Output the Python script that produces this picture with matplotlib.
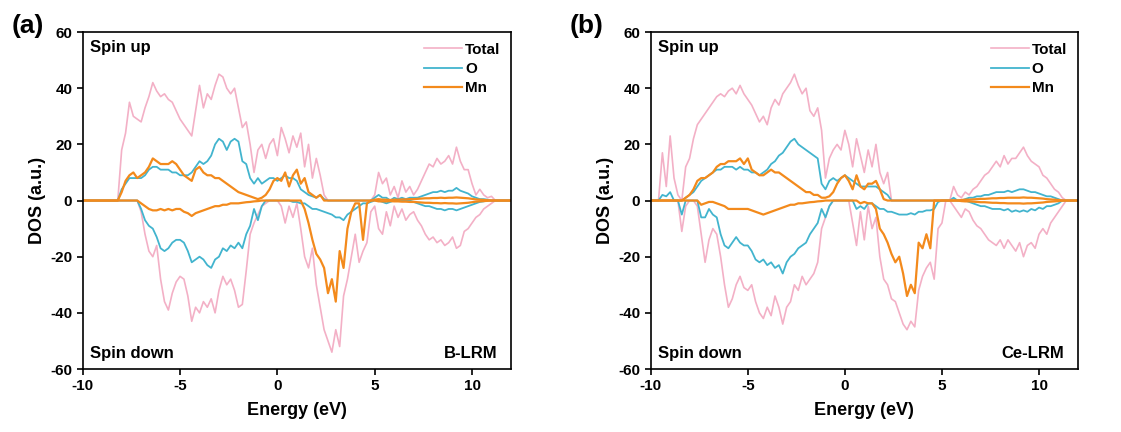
import matplotlib
matplotlib.use("Agg")
import matplotlib.pyplot as plt
import numpy as np

plt.rcParams['font.family'] = ['Liberation Sans', 'DejaVu Sans']
plt.rcParams['font.weight'] = 'bold'
plt.rcParams['axes.unicode_minus'] = False

# energy grid (eV), 0.2 eV step from -10 to 12
energy = np.round(np.linspace(-10, 12, 111), 2)

# ---- (a) B-LRM ----
tot_up_a = [0, 0, 0, 0, 0, 0, 0, 0, 0, 0,
            18, 24, 35, 30, 29, 28, 33, 37, 42, 39,
            37, 38, 36, 35, 32, 29, 27, 25, 23, 32,
            41, 33, 38, 36, 41, 45, 44, 40, 38, 40,
            33, 26, 28, 20, 10, 18, 20, 15, 20, 22,
            16, 26, 22, 17, 23, 19, 24, 12, 20, 8,
            15, 9, 2, 0, 0, 0, 0, 0, 0, 0,
            0, 0, 0, 0, 0, 2, 10, 6, 8, 2,
            5, 1, 7, 3, 5, 2, 4, 7, 10, 13,
            12, 15, 13, 14, 16, 13, 19, 14, 11, 11,
            6, 2, 4, 2, 1, 1.5, 0, 0, 0, 0,
            0]
tot_dn_a = [0, 0, 0, 0, 0, 0, 0, 0, 0, 0,
            0, 0, 0, 0, 0, -4, -12, -18, -20, -16,
            -28, -36, -39, -33, -29, -27, -28, -34, -43, -38,
            -40, -36, -38, -35, -40, -32, -27, -30, -28, -32,
            -38, -37, -25, -12, -8, -5, -2, -1, 0, 0,
            0, -2, -8, -2, -6, -1, -10, -20, -24, -17,
            -30, -38, -46, -50, -54, -46, -52, -34, -28, -20,
            -12, -22, -18, -15, -4, -2, -10, -12, -4, -9,
            -2, -6, -3, -7, -5, -4, -7, -9, -12, -14,
            -13, -15, -14, -16, -15, -13, -17, -16, -11, -10,
            -8, -6, -5, -3, -2, -1, 0, 0, 0, 0,
            0]
o_up_a = [0, 0, 0, 0, 0, 0, 0, 0, 0, 0,
          4, 6, 8, 8, 8, 8, 9, 11, 12, 12,
          11, 11, 11, 10, 10, 9, 9, 9, 10, 12,
          14, 13, 14, 16, 20, 22, 21, 18, 21, 22,
          21, 14, 13, 8, 6, 8, 6, 7, 8, 8,
          7, 8, 9, 8, 8, 7, 4, 3, 2, 1.5,
          1, 2, 0.5, 0, 0, 0, 0, 0, 0, 0,
          0, 0, 0, 0, 0, 1, 2, 1, 1, 0,
          1, 0.5, 1, 0.5, 1, 1, 1, 1.5, 2, 2.5,
          3, 3, 3.5, 3, 3.5, 3.5, 4.5, 3.5, 3, 2.5,
          1.5, 1, 0.5, 0.5, 0.3, 0, 0, 0, 0, 0,
          0]
o_dn_a = [0, 0, 0, 0, 0, 0, 0, 0, 0, 0,
          0, 0, 0, 0, 0, -3, -7, -9, -10, -13,
          -17, -18, -17, -15, -14, -14, -15, -18, -22, -21,
          -20, -21, -23, -24, -21, -20, -17, -18, -16, -17,
          -15, -17, -12, -9, -3, -7, -2, 0, 0, 0,
          0, 0, 0, 0, -0.5, -0.5, -1, -1, -2, -3,
          -3, -3.5, -4, -4.5, -5, -6, -6, -7, -5, -4,
          -3, -2, -1, -1, -0.5, 0, 0, -0.5, -1, -0.5,
          0, 0, 0, 0, 0, -0.5, -1, -1.5, -2, -2,
          -2.5, -3, -3, -3.5, -3, -3, -3.5, -3, -2.5, -2,
          -1.5, -1, -0.5, -0.3, 0, 0, 0, 0, 0, 0,
          0]
mn_up_a = [0, 0, 0, 0, 0, 0, 0, 0, 0, 0,
           3, 7, 9, 10, 8, 9, 10, 12, 15, 14,
           13, 13, 13, 14, 13, 11, 9, 8, 7, 11,
           12, 10, 9, 9, 8, 8, 7, 6, 5, 4,
           3, 2.5, 2, 1.5, 1, 0.5, 1, 2, 4, 7,
           8, 7, 10, 5, 9, 11, 6, 8, 3, 2,
           1, 2, 0, 0, 0, 0, 0, 0, 0, 0,
           0, 0, 0, 0, 0, 0.3, 0.5, 0.3, 0.3, 0.2,
           0.3, 0.3, 0.4, 0.4, 0.5, 0.5, 0.6, 0.7, 0.8, 0.8,
           0.9, 0.9, 1, 0.9, 1, 1, 1.1, 1, 0.9, 0.8,
           0.6, 0.4, 0.3, 0.2, 0.1, 0, 0, 0, 0, 0,
           0]
mn_dn_a = [0, 0, 0, 0, 0, 0, 0, 0, 0, 0,
           0, 0, 0, 0, 0, -1, -2, -3, -3.5, -3.5,
           -3, -3.5, -3, -3.5, -3, -3, -4, -4.5, -5.5, -4.5,
           -4, -3.5, -3, -2.5, -2, -2, -1.5, -1.5, -1, -1,
           -1, -0.8, -0.6, -0.5, -0.3, -0.2, 0, 0, 0, 0,
           0, 0, 0, 0, 0, 0, 0, -3, -8, -14,
           -19, -21, -24, -33, -28, -36, -18, -24, -10, -4,
           -1, -1, -14, -1, 0, 0, -0.3, -0.3, -0.3, -0.2,
           -0.3, -0.3, -0.4, -0.4, -0.5, -0.5, -0.6, -0.7, -0.8, -0.8,
           -0.9, -0.9, -1, -0.9, -1, -1, -1.1, -1, -0.9, -0.8,
           -0.6, -0.4, -0.3, -0.2, -0.1, 0, 0, 0, 0, 0,
           0]

# ---- (b) Ce-LRM ----
tot_up_b = [0, 0, 0, 17, 5, 23, 8, 2, 0, 12,
            15, 22, 27, 29, 31, 33, 35, 37, 38, 37,
            39, 40, 38, 41, 38, 36, 34, 31, 28, 30,
            27, 33, 36, 34, 38, 40, 42, 45, 41, 38,
            40, 32, 30, 33, 25, 8, 15, 18, 20, 18,
            25, 20, 12, 22, 16, 10, 18, 12, 20, 10,
            6, 10, 0, 0, 0, 0, 0, 0, 0, 0,
            0, 0, 0, 0, 0, 0, 0, 0, 5, 2,
            1, 3, 2, 4, 5, 7, 9, 10, 12, 14,
            12, 16, 13, 15, 15, 17, 19, 16, 14, 13,
            12, 9, 8, 6, 4, 3, 1, 0, 0, 0,
            0]
tot_dn_b = [0, 0, 0, 0, 0, 0, 0, 0, -11, -2,
            0, 0, -2, -12, -22, -14, -10, -12, -20, -30,
            -38, -35, -30, -27, -31, -32, -30, -36, -40, -42,
            -38, -41, -34, -38, -44, -38, -36, -30, -32, -27,
            -30, -28, -26, -22, -10, -6, -2, 0, 0, 0,
            0, 0, -8, -16, -4, -14, -2, -10, -6, -20,
            -28, -30, -35, -36, -40, -44, -46, -43, -45, -32,
            -27, -24, -22, -28, -10, -8, 0, 0, -2, -4,
            -6, -3, -4, -7, -9, -10, -12, -14, -15, -16,
            -14, -17, -14, -16, -18, -15, -20, -16, -15, -17,
            -12, -10, -12, -8, -6, -4, -2, 0, 0, 0,
            0]
o_up_b = [0, 0, 0, 2, 1.5, 3, 0, 0, 0, 1,
          2, 3, 5, 7, 8, 9, 10, 11, 11, 12,
          12, 12, 11, 12, 11, 11, 10, 10, 9, 10,
          11, 13, 14, 16, 17, 19, 21, 22, 20, 19,
          18, 17, 16, 15, 6, 4, 7, 8, 7, 8,
          9, 8, 7, 6, 5, 5, 5, 5, 5, 4,
          3, 2, 0, 0, 0, 0, 0, 0, 0, 0,
          0, 0, 0, 0, 0, 0, 0, 0, 1, 0,
          0, 0.5, 1, 1, 1.5, 1.5, 2, 2, 2.5, 3,
          3, 3, 3.5, 3, 3.5, 4, 4, 3.5, 3, 3,
          2.5, 2, 1.5, 1.5, 1, 0.5, 0, 0, 0, 0,
          0]
o_dn_b = [0, 0, 0, 0, 0, 0, 0, 0, -5, 0,
          0, 0, 0, -6, -6, -3, -5, -6, -12, -16,
          -17, -15, -13, -15, -16, -16, -18, -21, -22, -21,
          -23, -22, -24, -23, -26, -22, -20, -19, -17, -16,
          -15, -12, -10, -8, -3, -6, -2, 0, 0, 0,
          0, 0, 0, -3, -2, -3, -1, -1, -2, -3,
          -3, -4, -4, -4.5, -5, -5, -5, -4.5, -5, -4,
          -4, -3.5, -3.5, -3, -0.5, 0, 0, 0, 0, 0,
          0, 0, -0.5, -1, -1.5, -2, -2, -2.5, -3, -3,
          -3, -3.5, -3, -4, -3.5, -4, -3.5, -4, -3, -3.5,
          -2.5, -3, -2, -2, -1.5, -1, 0, 0, 0, 0,
          0]
mn_up_b = [0, 0, 0, 0, 0, 0, 0, 0, 0, 1,
           2, 4, 7, 8, 8, 9, 10, 12, 13, 13,
           14, 14, 14, 15, 13, 15, 11, 10, 9, 9,
           10, 11, 10, 10, 9, 8, 7, 6, 5, 4,
           3, 3, 2, 2, 1, 1, 1.5, 3, 6, 8,
           9, 7, 4, 9, 5, 4, 6, 6, 7, 4,
           0.5, 0, 0, 0, 0, 0, 0, 0, 0, 0,
           0, 0, 0, 0, 0, 0, 0, 0, 0, 0,
           0.2, 0.3, 0.3, 0.4, 0.5, 0.6, 0.6, 0.7, 0.8, 0.8,
           0.9, 0.9, 1, 1, 1, 1, 1.1, 1, 1, 0.9,
           0.8, 0.7, 0.5, 0.4, 0.3, 0.2, 0, 0, 0, 0,
           0]
mn_dn_b = [0, 0, 0, 0, 0, 0, 0, 0, 0, 0,
           0, 0, 0, -1.5, -1, -0.5, -0.5, -1, -1.5, -2,
           -3, -3, -3, -3, -3, -3, -3.5, -4, -4.5, -5,
           -4.5, -4, -3.5, -3, -2.5, -2, -1.5, -1.5, -1, -1,
           -0.8, -0.6, -0.5, -0.3, -0.2, 0, 0, 0, 0, 0,
           0, 0, 0, 0, -1, -0.5, -1, -1, -3, -10,
           -12, -15, -19, -22, -20, -26, -34, -30, -33, -15,
           -17, -12, -17, 0, 0, 0, 0, 0, 0, 0,
           -0.2, -0.3, -0.3, -0.4, -0.5, -0.6, -0.6, -0.7, -0.8, -0.8,
           -0.9, -0.9, -1, -1, -1, -1, -1.1, -1, -1, -0.9,
           -0.8, -0.7, -0.5, -0.4, -0.3, -0.2, 0, 0, 0, 0,
           0]

series_labels = ['Total', 'O', 'Mn']
colors = ['#F3B0C6', '#42B4CE', '#F38A1C']
widths = [1.2, 1.3, 1.6]
panel_tags = ['(a)', '(b)']
sample_names = ['B-LRM', 'Ce-LRM']

panels = [
    [(tot_up_a, tot_dn_a), (o_up_a, o_dn_a), (mn_up_a, mn_dn_a)],
    [(tot_up_b, tot_dn_b), (o_up_b, o_dn_b), (mn_up_b, mn_dn_b)],
]

fig = plt.figure(figsize=(11.21, 4.32), dpi=100)
axes = [fig.add_axes([0.0738, 0.1458, 0.382, 0.780]),
        fig.add_axes([0.5805, 0.1458, 0.381, 0.780])]
tag_x = [0.010, 0.508]

for k, ax in enumerate(axes):
    for (up, dn), lab, c, lw in zip(panels[k], series_labels, colors, widths):
        ax.plot(energy, up, color=c, lw=lw, label=lab)
        ax.plot(energy, dn, color=c, lw=lw)

    ax.set_xlim(-10, 12)
    ax.set_ylim(-60, 60)
    ax.set_xticks([-10, -5, 0, 5, 10])
    ax.set_yticks([-60, -40, -20, 0, 20, 40, 60])
    ax.tick_params(direction='out', length=4, width=1.2, labelsize=11)
    for lbl in ax.get_xticklabels() + ax.get_yticklabels():
        lbl.set_fontweight('bold')
    for sp in ax.spines.values():
        sp.set_linewidth(1.2)
    ax.set_xlabel('Energy (eV)', fontsize=13, fontweight='bold', labelpad=6)
    ax.set_ylabel('DOS (a.u.)', fontsize=13, fontweight='bold', labelpad=3)

    ax.text(0.018, 0.955, 'Spin up', transform=ax.transAxes, fontsize=12,
            fontweight='bold', va='center', ha='left')
    ax.text(0.018, 0.047, 'Spin down', transform=ax.transAxes, fontsize=12,
            fontweight='bold', va='center', ha='left')
    ax.text(0.968, 0.047, sample_names[k], transform=ax.transAxes, fontsize=12,
            fontweight='bold', va='center', ha='right')

    ax.legend(loc='upper right', frameon=False, handlelength=2.5,
              handletextpad=0.2, labelspacing=0.35, borderaxespad=0.3,
              prop={'weight': 'bold', 'size': 11})

    fig.text(tag_x[k], 0.94, panel_tags[k], fontsize=19, fontweight='bold',
             va='center', ha='left')

fig.savefig('out.png', dpi=100)
